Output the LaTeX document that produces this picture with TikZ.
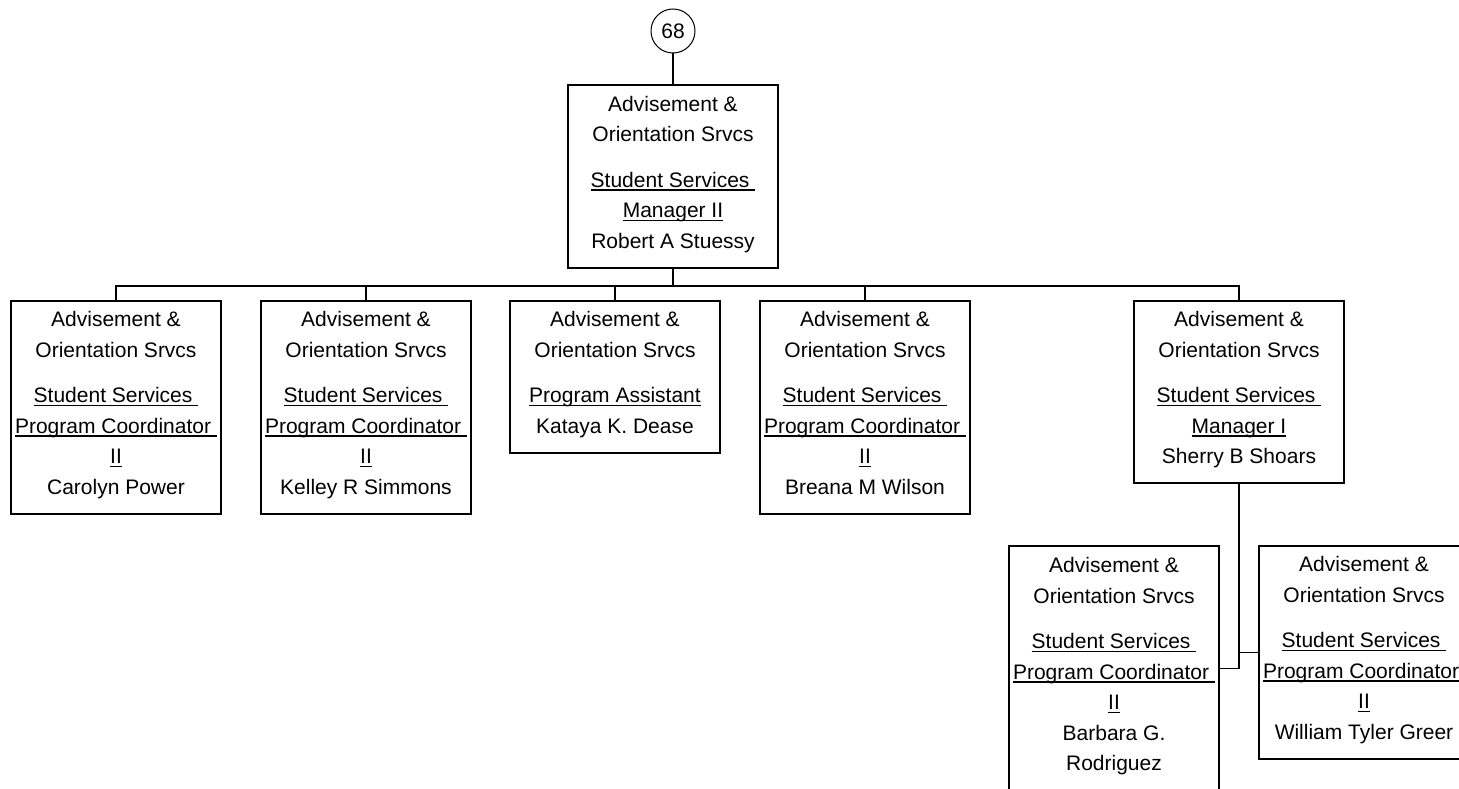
\documentclass[tikz,border=0pt]{standalone}
\usepackage{fontspec}
\setmainfont{Liberation Sans}
\usetikzlibrary{positioning}
\newsavebox{\ttlbox}
\newcommand{\ttl}[1]{\sbox{\ttlbox}{#1}\rlap{\rule[-3.5pt]{\wd\ttlbox}{1.5pt}}\usebox{\ttlbox}}
\newcommand{\nm}[1]{#1\rule[-9pt]{0pt}{9pt}}
\newcommand{\dept}{Advisement \&\\Orientation Srvcs\\[15pt]}
\newcommand{\coord}{\ttl{Student Services\ }\\\ttl{Program Coordinator\ }\\\ttl{II}}
\tikzset{
  unitbox/.style={draw, line width=1.8pt, minimum width=210pt, inner sep=0pt,
    align=center, anchor=north},
  wire/.style={line width=1.8pt}
}

\begin{document}
\begin{tikzpicture}[x=1pt, y=-1pt, every node/.style={font=\fontsize{21}{30.5}\selectfont}]
  \useasboundingbox (0,0) rectangle (1459,789);

  \node[draw, circle, line width=1pt, minimum size=44pt, inner sep=0pt] (num) at (673,31) {68};

  % Head of the unit
  \node[unitbox, minimum height=183pt] (head) at (673,84)
    {\dept\ttl{Student Services\ }\\\ttl{Manager II}\\\nm{Robert A Stuessy}};

  % Second row
  \node[unitbox, minimum height=213pt] (pc1) at (116,300) {\dept\coord\\\nm{Carolyn Power}};
  \node[unitbox, minimum height=213pt] (pc2) at (366,300) {\dept\coord\\\nm{Kelley R Simmons}};
  \node[unitbox, minimum height=152pt] (pa) at (615,300)
    {\dept\ttl{Program Assistant}\\\nm{Kataya K. Dease}};
  \node[unitbox, minimum height=213pt] (pc3) at (865,300) {\dept\coord\\\nm{Breana M Wilson}};
  \node[unitbox, minimum height=182pt] (mgr) at (1239,300)
    {\dept\ttl{Student Services\ }\\\ttl{Manager I}\\\nm{Sherry B Shoars}};

  % Third row
  \node[unitbox, minimum height=245pt] (pc4) at (1114,545) {\dept\coord\\Barbara G.\\\nm{Rodriguez}};
  \node[unitbox, minimum height=213pt] (pc5) at (1364,545) {\dept\coord\\\nm{William Tyler Greer}};

  % Connectors
  \draw[line width=1.4pt] (num) -- (head);
  \draw[wire] (head.south) -- ++(0,17) coordinate (bus);
  \draw[wire] (pc1.north) |- (bus) -| (mgr.north);
  \foreach \n in {pc2,pa,pc3} {
    \draw[wire] (\n.north) -- (\n.north |- bus);
  }
  \draw[wire] (mgr.south) |- (pc4.east);
  \draw[wire] (pc5.west) -| (mgr.south);

\end{tikzpicture}
\end{document}
